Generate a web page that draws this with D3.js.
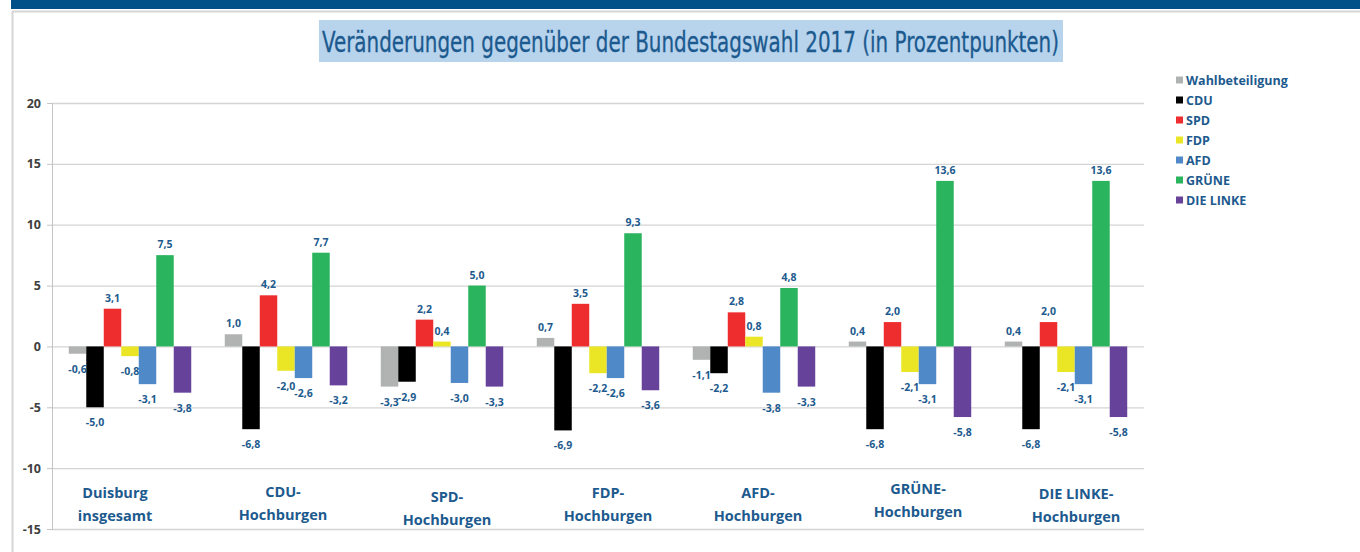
<!DOCTYPE html>
<html>
<head>
<meta charset="utf-8">
<script src="https://cdn.jsdelivr.net/npm/d3@7"></script>
<style>
  html, body { margin: 0; padding: 0; background: #fff; }
  svg { display: block; }
</style>
</head>
<body>
<div id="chart"></div>
<script>
// Veränderungen gegenüber der Bundestagswahl 2017

const categories = [
  ['Duisburg', 'insgesamt'],
  ['CDU-', 'Hochburgen'],
  ['SPD-', 'Hochburgen'],
  ['FDP-', 'Hochburgen'],
  ['AFD-', 'Hochburgen'],
  ['GRÜNE-', 'Hochburgen'],
  ['DIE LINKE-', 'Hochburgen']
];

const seriesNames = ['Wahlbeteiligung', 'CDU', 'SPD', 'FDP', 'AFD', 'GRÜNE', 'DIE LINKE'];

const wahlbeteiligung = [-0.6, 1.0, -3.3, 0.7, -1.1, 0.4, 0.4];
const cdu = [-5.0, -6.8, -2.9, -6.9, -2.2, -6.8, -6.8];
const spd = [3.1, 4.2, 2.2, 3.5, 2.8, 2.0, 2.0];
const fdp = [-0.8, -2.0, 0.4, -2.2, 0.8, -2.1, -2.1];
const afd = [-3.1, -2.6, -3.0, -2.6, -3.8, -3.1, -3.1];
const gruene = [7.5, 7.7, 5.0, 9.3, 4.8, 13.6, 13.6];
const linke = [-3.8, -3.2, -3.3, -3.6, -3.3, -5.8, -5.8];

const yTicks = [-15, -10, -5, 0, 5, 10, 15, 20];

const seriesValues = [wahlbeteiligung, cdu, spd, fdp, afd, gruene, linke];
const colors = ['#b1b3b3', '#000000', '#ee2d2f', '#ebe625', '#4f89c8', '#2bb45e', '#66429a'];

// label nudges (category text boxes are not exactly centred in the original)
const labelNudge = [[-15, 0], [-3, -1], [5, 4], [10, 0], [4, 0], [8, -4], [10, 1]];

const W = 1360, H = 552;
const margin = { top: 103, right: 216, bottom: 23, left: 52 };
const textBlue = '#1d5a8e';

const svg = d3.select('#chart').append('svg')
  .attr('width', W)
  .attr('height', H);

// frame
svg.append('rect').attr('x', 11).attr('y', 0).attr('width', W - 11).attr('height', 9).attr('fill', '#00518a');
svg.append('line').attr('x1', 12).attr('x2', W).attr('y1', 11.5).attr('y2', 11.5).attr('stroke', '#d6d6d6').attr('stroke-width', 2);
svg.append('line').attr('x1', 12.5).attr('x2', 12.5).attr('y1', 11).attr('y2', H).attr('stroke', '#d6d6d6').attr('stroke-width', 2);

// title
svg.append('rect').attr('x', 319).attr('y', 20).attr('width', 744).attr('height', 42).attr('fill', '#b8d3ec');
svg.append('text')
  .attr('x', 322).attr('y', 52)
  .attr('textLength', 737).attr('lengthAdjust', 'spacingAndGlyphs')
  .style('font-family', '"Liberation Sans Narrow", "DejaVu Sans Condensed", sans-serif')
  .style('font-size', '28px')
  .style('stroke', '#1b5a8f').style('stroke-width', 0.3)
  .attr('fill', '#1b5a8f')
  .text('Veränderungen gegenüber der Bundestagswahl 2017 (in Prozentpunkten)');

const width = W - margin.left - margin.right;

const x0 = d3.scaleBand()
  .domain(d3.range(categories.length))
  .range([margin.left, margin.left + width])
  .paddingInner(0.215)
  .paddingOuter(0.1075);

const x1 = d3.scaleBand()
  .domain(d3.range(seriesNames.length))
  .range([0, x0.bandwidth()]);

const y = d3.scaleLinear()
  .domain([-15, 20])
  .range([529, 103]);

// grid
svg.append('g')
  .attr('transform', `translate(${margin.left},0)`)
  .call(d3.axisLeft(y).tickValues(yTicks).tickSize(-width).tickFormat(''))
  .call(g => g.select('.domain').remove())
  .call(g => g.selectAll('line').attr('stroke', '#d4d4d4').attr('stroke-width', 1.3));

// y axis
svg.append('g')
  .attr('transform', `translate(${margin.left},0)`)
  .call(d3.axisLeft(y).tickValues(yTicks).tickSize(5).tickPadding(6).tickFormat(d => String(d)))
  .call(g => g.select('.domain').attr('stroke', '#c4c4c4'))
  .call(g => g.selectAll('line').attr('stroke', '#c4c4c4'))
  .call(g => g.selectAll('text')
    .style('font-family', '"Open Sans", sans-serif')
    .style('font-weight', 'bold')
    .style('font-size', '12.5px')
    .attr('fill', '#404040'));

const fmt = v => v.toFixed(1).replace('.', ',');

// bars
const groups = svg.append('g').selectAll('g')
  .data(categories)
  .join('g')
  .attr('transform', (d, i) => `translate(${x0(i)},0)`);

groups.selectAll('rect')
  .data((d, i) => seriesValues.map((s, j) => ({ s: j, v: s[i] })))
  .join('rect')
  .attr('x', d => x1(d.s))
  .attr('width', x1.bandwidth())
  .attr('y', d => y(Math.max(0, d.v)))
  .attr('height', d => Math.abs(y(d.v) - y(0)))
  .attr('fill', d => colors[d.s]);

groups.selectAll('text')
  .data((d, i) => seriesValues.map((s, j) => ({ s: j, v: s[i] })))
  .join('text')
  .attr('x', d => x1(d.s) + x1.bandwidth() / 2)
  .attr('y', d => d.v >= 0 ? y(d.v) - 7 : y(d.v) + 19)
  .attr('text-anchor', 'middle')
  .style('font-family', '"Open Sans", sans-serif')
  .style('font-weight', 'bold')
  .style('font-size', '10.5px')
  .attr('fill', textBlue)
  .text(d => fmt(d.v));

// category labels
const catLabels = svg.append('g').selectAll('text')
  .data(categories)
  .join('text')
  .attr('x', (d, i) => x0(i) + x0.bandwidth() / 2 + labelNudge[i][0])
  .attr('y', (d, i) => 498 + labelNudge[i][1])
  .attr('text-anchor', 'middle')
  .style('font-family', '"Open Sans", sans-serif')
  .style('font-weight', 'bold')
  .style('font-size', '14.5px')
  .attr('fill', textBlue);

catLabels.selectAll('tspan')
  .data(d => d)
  .join('tspan')
  .attr('x', function () { return d3.select(this.parentNode).attr('x'); })
  .attr('dy', (d, i) => i === 0 ? 0 : 22.5)
  .text(d => d);

// legend
const legend = svg.append('g')
  .attr('transform', 'translate(1176,80)')
  .selectAll('g')
  .data(seriesNames)
  .join('g')
  .attr('transform', (d, i) => `translate(0,${i * 20})`);

legend.append('rect')
  .attr('x', 0).attr('y', -3.5)
  .attr('width', 7).attr('height', 7)
  .attr('fill', (d, i) => colors[i]);

legend.append('text')
  .attr('x', 10).attr('y', 4.5)
  .style('font-family', '"Open Sans", sans-serif')
  .style('font-weight', 'bold')
  .style('font-size', '12.5px')
  .attr('fill', textBlue)
  .text(d => d);
</script>
</body>
</html>
